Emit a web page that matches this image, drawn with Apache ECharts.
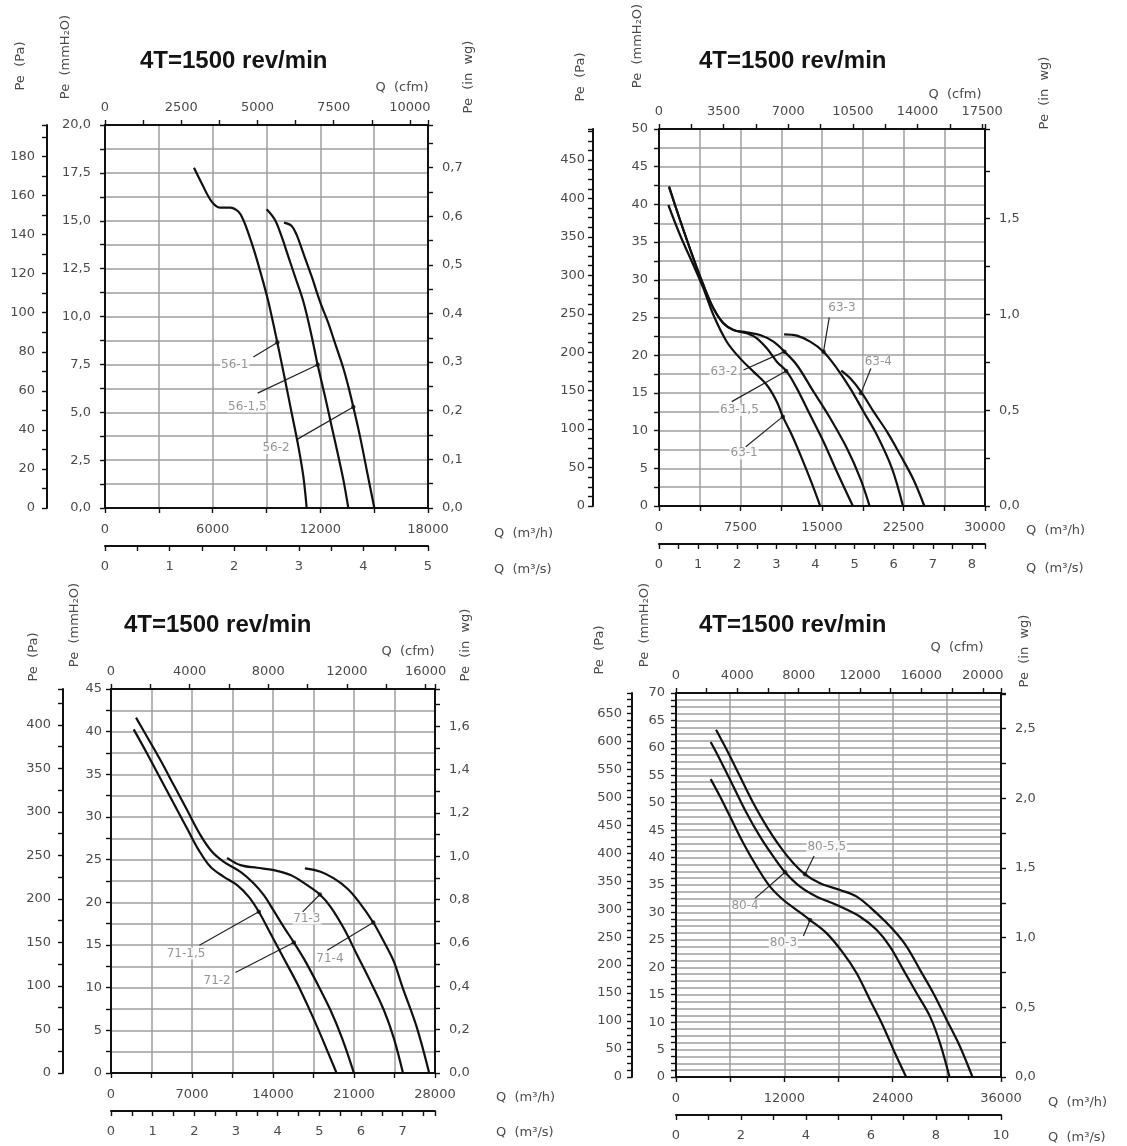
<!DOCTYPE html>
<html><head><meta charset="utf-8">
<script src="https://cdn.jsdelivr.net/npm/echarts@6/dist/echarts.min.js"></script>
<style>html,body{margin:0;padding:0;background:#fff}#c{width:1127px;height:1146px}</style>
</head><body><div id="c"></div>
<script>
// ---------- DATA (Q in m3/h, Pe in mmH2O) ----------
const chartTitle = '4T=1500 rev/min';

// Panel 56
const q56_1  = [4960, 5387, 5944, 6409, 6966, 7430, 7709, 7988, 8359, 8730, 9102, 9604, 10031, 10403, 10774, 11053, 11239];
const pe56_1 = [17.77, 16.96, 16.0, 15.69, 15.69, 15.48, 15.04, 14.35, 13.3, 12.09, 10.78, 8.64, 6.70, 4.96, 3.22, 1.65, 0];
const q56_15  = [9009, 9474, 9845, 10217, 10588, 11053, 11480, 11851, 12260, 12632, 13003, 13282, 13560];
const pe56_15 = [15.6, 15.04, 14.17, 13.13, 12.09, 10.78, 9.13, 7.48, 5.83, 4.26, 2.70, 1.48, 0];
const q56_2  = [9975, 10403, 10681, 11053, 11517, 11981, 12446, 12817, 13282, 13560, 13839, 14210, 14582, 15009];
const pe56_2 = [14.9, 14.73, 14.26, 13.3, 12.09, 10.78, 9.65, 8.61, 7.3, 6.35, 5.27, 3.74, 2.0, 0];
const lab56Text  = ['56-1', '56-1,5', '56-2'];
const lab56Point = [[9604, 8.64], [11851, 7.48], [13839, 5.27]];
const lab56End   = [[8266, 7.88], [8508, 6.0], [10681, 3.57]];
const lab56Pos   = [[7226, 7.48], [7932, 5.30], [9530, 3.13]];

// Panel 63
const q63_1  = [860, 1935, 3163, 4085, 5006, 6235, 7463, 8692, 9920, 10842, 11394, 12224, 13145, 14066, 14834];
const pe63_1 = [39.92, 35.94, 31.96, 28.87, 25.33, 21.79, 19.58, 17.82, 16.05, 13.84, 11.85, 9.42, 6.32, 3.0, 0];
const q63_15  = [921, 1935, 3163, 4085, 5006, 5927, 6849, 8077, 8999, 9920, 10842, 11763, 12684, 13912, 15141, 16370, 17844];
const pe63_15 = [42.35, 37.93, 32.85, 29.31, 26.22, 24.23, 23.34, 22.9, 22.24, 20.91, 19.14, 17.82, 15.6, 12.07, 8.53, 4.55, 0];
const q63_2  = [921, 1935, 3163, 4085, 5006, 5927, 6849, 8077, 9306, 10534, 11548, 12684, 14220, 15756, 17291, 18520, 19380];
const pe63_2 = [42.35, 37.93, 32.85, 29.31, 26.22, 24.23, 23.34, 23.03, 22.68, 21.8, 20.47, 18.7, 15.16, 11.63, 7.65, 3.67, 0];
const q63_3  = [11517, 12684, 13912, 15141, 16370, 17598, 18827, 20056, 21437, 22451];
const pe63_3 = [22.77, 22.6, 21.8, 20.47, 18.26, 15.6, 12.51, 9.42, 5.0, 0];
const q63_4  = [16769, 17598, 18581, 19748, 20977, 22206, 23434, 24417];
const pe63_4 = [17.95, 16.93, 15.16, 12.51, 9.86, 6.76, 3.45, 0];
const lab63Text  = ['63-1', '63-1,5', '63-2', '63-3', '63-4'];
const lab63Point = [[11394, 11.85], [11701, 17.9], [11548, 20.47], [15141, 20.47], [18581, 14.94]];
const lab63End   = [[7985, 7.87], [6695, 13.84], [7770, 18.04], [15664, 24.98], [19503, 18.26]];
const lab63Pos   = [[7832, 6.98], [7402, 12.73], [5989, 17.82], [16831, 26.3], [20178, 19.05]];

// Panel 71
const q71_15  = [1961, 3114, 4268, 5421, 6575, 7584, 8593, 9747, 10900, 11910, 12775, 13784, 14937, 16090, 17244, 18253, 19493];
const pe71_15 = [40.27, 37.45, 34.52, 31.59, 28.66, 26.12, 24.16, 22.99, 22.01, 20.64, 18.89, 16.34, 13.41, 10.48, 7.16, 4.03, 0];
const q71_2  = [2163, 3114, 4268, 5421, 6575, 7728, 8737, 9747, 11189, 12342, 13207, 14072, 14937, 15802, 16667, 17821, 18974, 19983, 20993];
const pe71_2 = [41.64, 39.41, 36.67, 33.74, 30.81, 27.88, 25.92, 24.75, 23.58, 22.21, 20.84, 19.0, 17.1, 15.3, 13.4, 10.48, 7.35, 4.03, 0];
const q71_3  = [10035, 11189, 12630, 14072, 15514, 16956, 18051, 18974, 20128, 21281, 22435, 23588, 24453, 25232];
const pe71_3 = [25.22, 24.36, 24.05, 23.77, 23.19, 22.01, 20.92, 19.47, 16.93, 13.8, 10.68, 7.35, 4.03, 0];
const q71_4  = [16754, 18109, 19262, 20416, 21425, 22665, 23588, 24453, 25180, 26415, 27497];
const pe71_4 = [23.97, 23.58, 22.8, 21.62, 20.06, 17.64, 15.37, 13.02, 10.09, 5.4, 0];
const lab71Text  = ['71-1,5', '71-2', '71-3', '71-4'];
const lab71Point = [[12775, 18.89], [15802, 15.3], [18051, 20.92], [22665, 17.64]];
const lab71End   = [[7642, 14.98], [10756, 11.77], [16562, 18.89], [18686, 14.39]];
const lab71Pos   = [[6488, 14.0], [9170, 10.75], [16927, 18.1], [18917, 13.33]];

// Panel 80
const q80_3  = [3842, 4877, 5985, 7463, 8941, 10419, 11896, 13374, 14852, 16700, 18547, 20025, 21503, 22981, 24274, 25493];
const pe80_3 = [54.3, 51.13, 47.48, 42.61, 38.35, 34.7, 32.26, 30.44, 28.61, 26.18, 22.53, 18.87, 14.0, 9.13, 4.27, 0];
const q80_4  = [3842, 4877, 6355, 7833, 9310, 10788, 12081, 13744, 15591, 17808, 20394, 22241, 23719, 25197, 26675, 28153, 29261, 30296];
const pe80_4 = [61.05, 57.83, 52.96, 48.09, 43.83, 40.18, 37.32, 34.7, 32.87, 31.35, 29.22, 26.79, 23.74, 19.48, 15.22, 10.96, 6.09, 0];
const q80_55  = [4434, 5616, 7094, 8571, 10049, 11527, 13005, 14298, 15961, 18177, 20025, 22241, 24089, 25567, 27044, 28522, 30000, 31478, 32842];
const pe80_55 = [63.3, 59.65, 54.78, 49.91, 45.65, 42.0, 38.96, 36.95, 35.31, 34.09, 32.87, 29.83, 26.79, 23.74, 19.48, 15.22, 10.35, 5.48, 0];
const lab80Text  = ['80-3', '80-4', '80-5,5'];
const lab80Point = [[14852, 28.61], [12081, 37.32], [14298, 36.95]];
const lab80End   = [[14113, 25.69], [8756, 32.57], [15296, 40.3]];
const lab80Pos   = [[11896, 24.53], [7648, 31.17], [16700, 42.0]];

// ---------- unit conversions ----------
const PA = 9.80665, INWG = 25.4, CFM = 1.699011, M3S = 3600;

// ---------- layout / axis settings ----------
const panels = [
  { grid:{left:105, top:125, width:323, height:383}, title:{left:135, top:44},
    qMax:18000, qGrid:3000, qLab:6000, peMax:20, peGrid:1.25, peLab:2.5, peDec:1, peMargin:14,
    paOffset:58, paTick:10, paLab:20, paMargin:12, wgTick:0.05, wgLab:0.1,
    cfmTick:1250, cfmLab:2500, m3sTick:0.5, m3sLab:1,
    curves:[[q56_1,pe56_1],[q56_15,pe56_15],[q56_2,pe56_2]],
    lab:[lab56Text, lab56Point, lab56End, lab56Pos],
    names:{pa:[21,66], mm:[66,57], wg:[469,77], cfm:[402,88], m3h:[494,534], m3s:[494,570]} },
  { grid:{left:659, top:129, width:326, height:377}, title:{left:694, top:44},
    qMax:30000, qGrid:3750, qLab:7500, peMax:50, peGrid:2.5, peLab:5, peDec:0, peMargin:11,
    paOffset:66, paTick:12.5, paLab:50, paMargin:8, wgTick:0.25, wgLab:0.5,
    cfmTick:1750, cfmLab:3500, m3sTick:0.5, m3sLab:1,
    curves:[[q63_1,pe63_1],[q63_15,pe63_15],[q63_2,pe63_2],[q63_3,pe63_3],[q63_4,pe63_4]],
    lab:[lab63Text, lab63Point, lab63End, lab63Pos],
    names:{pa:[581,77], mm:[638,46], wg:[1045,93], cfm:[955,95], m3h:[1026,531], m3s:[1026,569]} },
  { grid:{left:111, top:689, width:324, height:384}, title:{left:119, top:608},
    qMax:28000, qGrid:3500, qLab:7000, peMax:45, peGrid:2.5, peLab:5, peDec:0, peMargin:9,
    paOffset:48, paTick:25, paLab:50, paMargin:12, wgTick:0.1, wgLab:0.2,
    cfmTick:2000, cfmLab:4000, m3sTick:0.5, m3sLab:1,
    curves:[[q71_15,pe71_15],[q71_2,pe71_2],[q71_3,pe71_3],[q71_4,pe71_4]],
    lab:[lab71Text, lab71Point, lab71End, lab71Pos],
    names:{pa:[34,657], mm:[75,625], wg:[466,645], cfm:[408,652], m3h:[496,1098], m3s:[496,1133]} },
  { grid:{left:676, top:693, width:325, height:384}, title:{left:694, top:608},
    qMax:36000, qGrid:6000, qLab:12000, peMax:70, peGrid:1.25, peLab:5, peDec:0, peMargin:11,
    paOffset:44, paTick:12.5, paLab:50, paMargin:10, wgTick:0.25, wgLab:0.5,
    cfmTick:2000, cfmLab:4000, m3sTick:1, m3sLab:2,
    curves:[[q80_3,pe80_3],[q80_4,pe80_4],[q80_55,pe80_55]],
    lab:[lab80Text, lab80Point, lab80End, lab80Pos],
    names:{pa:[600,650], mm:[645,625], wg:[1025,651], cfm:[957,648], m3h:[1048,1103], m3s:[1048,1138]} }
];

// ---------- helpers ----------
const FONT = 'DejaVu Sans';
const TXT = '#4a4a4a';
function onStep(v, step){ const k = v / step; return Math.abs(k - Math.round(k)) < 1e-6; }
function stepFmt(step, dec){
  return v => onStep(v, step) ? (dec ? v.toFixed(dec).replace('.', ',') : String(Math.round(v))) : '';
}
function ax(o){
  const base = {
    type:'value', min:0,
    axisLine:{show:true, onZero:false, lineStyle:{color:'#111', width:2}},
    axisTick:{show:true, length:5, lineStyle:{color:'#111', width:1.4}},
    splitLine:{show:false},
    axisLabel:{color:TXT, fontFamily:FONT, fontSize:13}
  };
  const r = Object.assign({}, base, o);
  r.axisLabel = Object.assign({}, base.axisLabel, o.axisLabel || {});
  return r;
}
const GRIDLINE = {show:true, lineStyle:{color:'#9e9e9e', width:1.5}};

const option = {
  animation:false, backgroundColor:'#fff',
  title:[], grid:[], xAxis:[], yAxis:[], series:[], graphic:[]
};

panels.forEach((p, i) => {
  option.grid.push(Object.assign({containLabel:false}, p.grid));
  option.title.push({text:chartTitle, left:p.title.left, top:p.title.top,
    textStyle:{fontFamily:'Liberation Sans', fontWeight:'bold', fontSize:24, color:'#141414'}});
  // x axes
  option.xAxis.push(ax({gridIndex:i, position:'bottom', max:p.qMax, interval:p.qGrid,
    axisLabel:{margin:15, formatter:stepFmt(p.qLab,0)}, splitLine:GRIDLINE}));
  option.xAxis.push(ax({gridIndex:i, position:'top', max:p.qMax / CFM, interval:p.cfmTick,
    axisLabel:{margin:11, formatter:stepFmt(p.cfmLab,0)}}));
  option.xAxis.push(ax({gridIndex:i, position:'bottom', offset:38, max:p.qMax / M3S, interval:p.m3sTick,
    axisLabel:{margin:14, formatter:stepFmt(p.m3sLab,0)}}));
  // y axes
  option.yAxis.push(ax({gridIndex:i, position:'left', max:p.peMax, interval:p.peGrid,
    axisLabel:{margin:p.peMargin, formatter:stepFmt(p.peLab,p.peDec)}, splitLine:GRIDLINE}));
  option.yAxis.push(ax({gridIndex:i, position:'left', offset:p.paOffset, max:p.peMax * PA, interval:p.paTick,
    axisLabel:{margin:p.paMargin, formatter:stepFmt(p.paLab,0)}}));
  option.yAxis.push(ax({gridIndex:i, position:'right', max:p.peMax / INWG, interval:p.wgTick,
    axisLabel:{margin:14, formatter:stepFmt(p.wgLab,1)}}));

  const xi = 3*i, yi = 3*i;
  p.curves.forEach(([q, pe]) => {
    option.series.push({type:'line', xAxisIndex:xi, yAxisIndex:yi, smooth:0.35, symbol:'none', silent:true,
      lineStyle:{color:'#111', width:2.2}, z:5, data:q.map((x, k) => [x, pe[k]])});
  });
  const [txt, pt, en, pos] = p.lab;
  txt.forEach((t, k) => {
    option.series.push({type:'line', xAxisIndex:xi, yAxisIndex:yi, symbol:'none', silent:true,
      lineStyle:{color:'#222', width:1.2}, z:4, data:[en[k], pt[k]]});
  });
  option.series.push({type:'scatter', xAxisIndex:xi, yAxisIndex:yi, symbolSize:4.5, silent:true,
    itemStyle:{color:'#111'}, z:6, data:pt});
  option.series.push({type:'scatter', xAxisIndex:xi, yAxisIndex:yi, symbolSize:1, silent:true,
    itemStyle:{color:'rgba(0,0,0,0)'}, z:7,
    label:{show:true, position:'inside', color:'#7a7a7a', fontFamily:FONT, fontSize:12,
      backgroundColor:'#fff', padding:[0,1],
      formatter: prm => txt[prm.dataIndex]},
    data:pos});

  // axis names
  const n = p.names;
  const vt = (s, c) => ({type:'text', x:c[0], y:c[1], rotation:Math.PI/2,
    style:{text:s, fill:TXT, font:'13px "DejaVu Sans"', textAlign:'center', textVerticalAlign:'middle'}});
  const ht = (s, c, al) => ({type:'text', x:c[0], y:c[1],
    style:{text:s, fill:TXT, font:'13px "DejaVu Sans"', textAlign:al, textVerticalAlign:'middle'}});
  option.graphic.push(vt('Pe  (Pa)', n.pa), vt('Pe  (mmH\u2082O)', n.mm), vt('Pe  (in  wg)', n.wg),
    ht('Q  (cfm)', n.cfm, 'center'), ht('Q  (m\u00b3/h)', n.m3h, 'left'), ht('Q  (m\u00b3/s)', n.m3s, 'left'));
});

const chart = echarts.init(document.getElementById('c'), null, {renderer:'canvas'});
chart.setOption(option);
</script></body></html>
